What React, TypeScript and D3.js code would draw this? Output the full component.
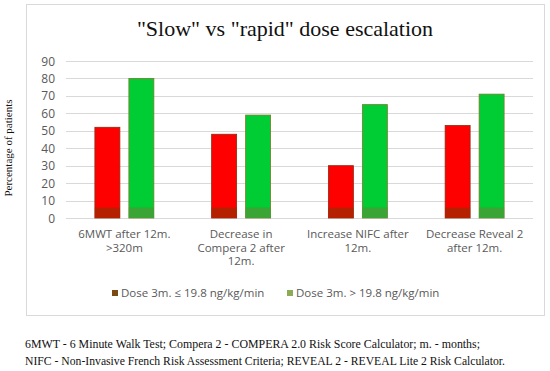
import * as d3 from "d3";
import React from "react";

const width = 550;
const height = 371;

const categories = [
  ["6MWT after 12m.", ">320m"],
  ["Decrease in", "Compera 2 after", "12m."],
  ["Increase NIFC after", "12m."],
  ["Decrease Reveal 2", "after 12m."],
];
const seriesNames = ["Dose 3m. ≤ 19.8 ng/kg/min", "Dose 3m. > 19.8 ng/kg/min"];
const slowValues = [52, 48, 30, 53];
const rapidValues = [80, 59, 65, 71];
const yTicks = [0, 10, 20, 30, 40, 50, 60, 70, 80, 90];
const footnotes = [
  "6MWT - 6 Minute Walk Test; Compera 2 - COMPERA 2.0 Risk Score Calculator; m. - months;",
  "NIFC - Non-Invasive French Risk Assessment Criteria; REVEAL 2 - REVEAL Lite 2 Risk Calculator.",
];
const footnoteWidths = [455, 480];

const barFill = ["#ff0000", "#00cc33"];
const barBase = ["#b52100", "#3aa434"];
const barStroke = ["#8a2a10", "#7a7a2a"];
const legendFill = ["#7b4a10", "#8dab55"];

const sans = "'Open Sans', 'Noto Sans', sans-serif";
const serif = "'Liberation Serif', 'DejaVu Serif', serif";

export default function App() {
  const plot = { left: 66, right: 533, top: 61, bottom: 218 };

  const x = d3
    .scaleBand<number>()
    .domain(d3.range(categories.length))
    .range([plot.left, plot.right]);
  const xInner = d3
    .scaleBand<number>()
    .domain([0, 1])
    .range([0, x.bandwidth()])
    .paddingInner(0.265)
    .paddingOuter(0.85);
  const y = d3.scaleLinear().domain([0, 90]).range([plot.bottom, plot.top]);

  const series = [slowValues, rapidValues];

  return (
    <svg
      width={width}
      height={height}
      style={{ position: "absolute", left: 0, top: 0 }}
    >
      <rect x={0} y={0} width={width} height={height} fill="#fff" />
      {/* chart frame */}
      <rect x={26.5} y={4.5} width={518} height={311} fill="#fff" stroke="#d9d9d9" />

      <text
        x={285}
        y={36}
        textAnchor="middle"
        fontFamily={serif}
        fontSize={22}
        fill="#111"
      >
        "Slow" vs "rapid" dose escalation
      </text>

      {/* gridlines + ticks */}
      {yTicks.map((t) => (
        <g key={t}>
          <line
            x1={plot.left}
            x2={plot.right}
            y1={Math.round(y(t)) + 0.5}
            y2={Math.round(y(t)) + 0.5}
            stroke="#d9d9d9"
          />
          <text
            x={55}
            y={y(t) + 4.5}
            textAnchor="end"
            fontFamily={sans}
            fontSize={12}
            fill="#595959"
          >
            {t}
          </text>
        </g>
      ))}

      <text
        transform={`translate(12, 148) rotate(-90)`}
        textAnchor="middle"
        fontFamily={serif}
        fontSize={11}
        fill="#111"
      >
        Percentage of patients
      </text>

      {/* bars */}
      {categories.map((c, i) =>
        series.map((vals, s) => {
          const bx = (x(i) as number) + (xInner(s) as number);
          const bw = xInner.bandwidth();
          return (
            <g key={`${i}-${s}`}>
              <rect
                x={bx}
                y={y(vals[i])}
                width={bw}
                height={y(0) - y(vals[i])}
                fill={barFill[s]}
                stroke={barStroke[s]}
                strokeWidth={0.8}
              />
              <rect
                x={bx}
                y={y(6)}
                width={bw}
                height={y(0) - y(6)}
                fill={barBase[s]}
              />
            </g>
          );
        })
      )}

      {/* category labels */}
      {categories.map((lines, i) => (
        <text
          key={i}
          textAnchor="middle"
          fontFamily={sans}
          fontSize={11.5}
          fill="#595959"
        >
          {lines.map((l, k) => (
            <tspan key={k} x={(x(i) as number) + x.bandwidth() / 2} y={238 + k * 13.5}>
              {l}
            </tspan>
          ))}
        </text>
      ))}

      {/* legend */}
      {seriesNames.map((name, s) => {
        const lx = [112, 287][s];
        return (
          <g key={name}>
            <rect x={lx} y={290} width={6} height={6} fill={legendFill[s]} />
            <text
              x={lx + 9}
              y={297}
              fontFamily={sans}
              fontSize={11.5}
              fill="#595959"
            >
              {name}
            </text>
          </g>
        );
      })}

      {/* footnotes */}
      {footnotes.map((f, k) => (
        <text
          key={k}
          x={25}
          y={348 + k * 17}
          fontFamily={serif}
          fontSize={12.5}
          textLength={footnoteWidths[k]}
          lengthAdjust="spacingAndGlyphs"
          fill="#111"
        >
          {f}
        </text>
      ))}
    </svg>
  );
}
